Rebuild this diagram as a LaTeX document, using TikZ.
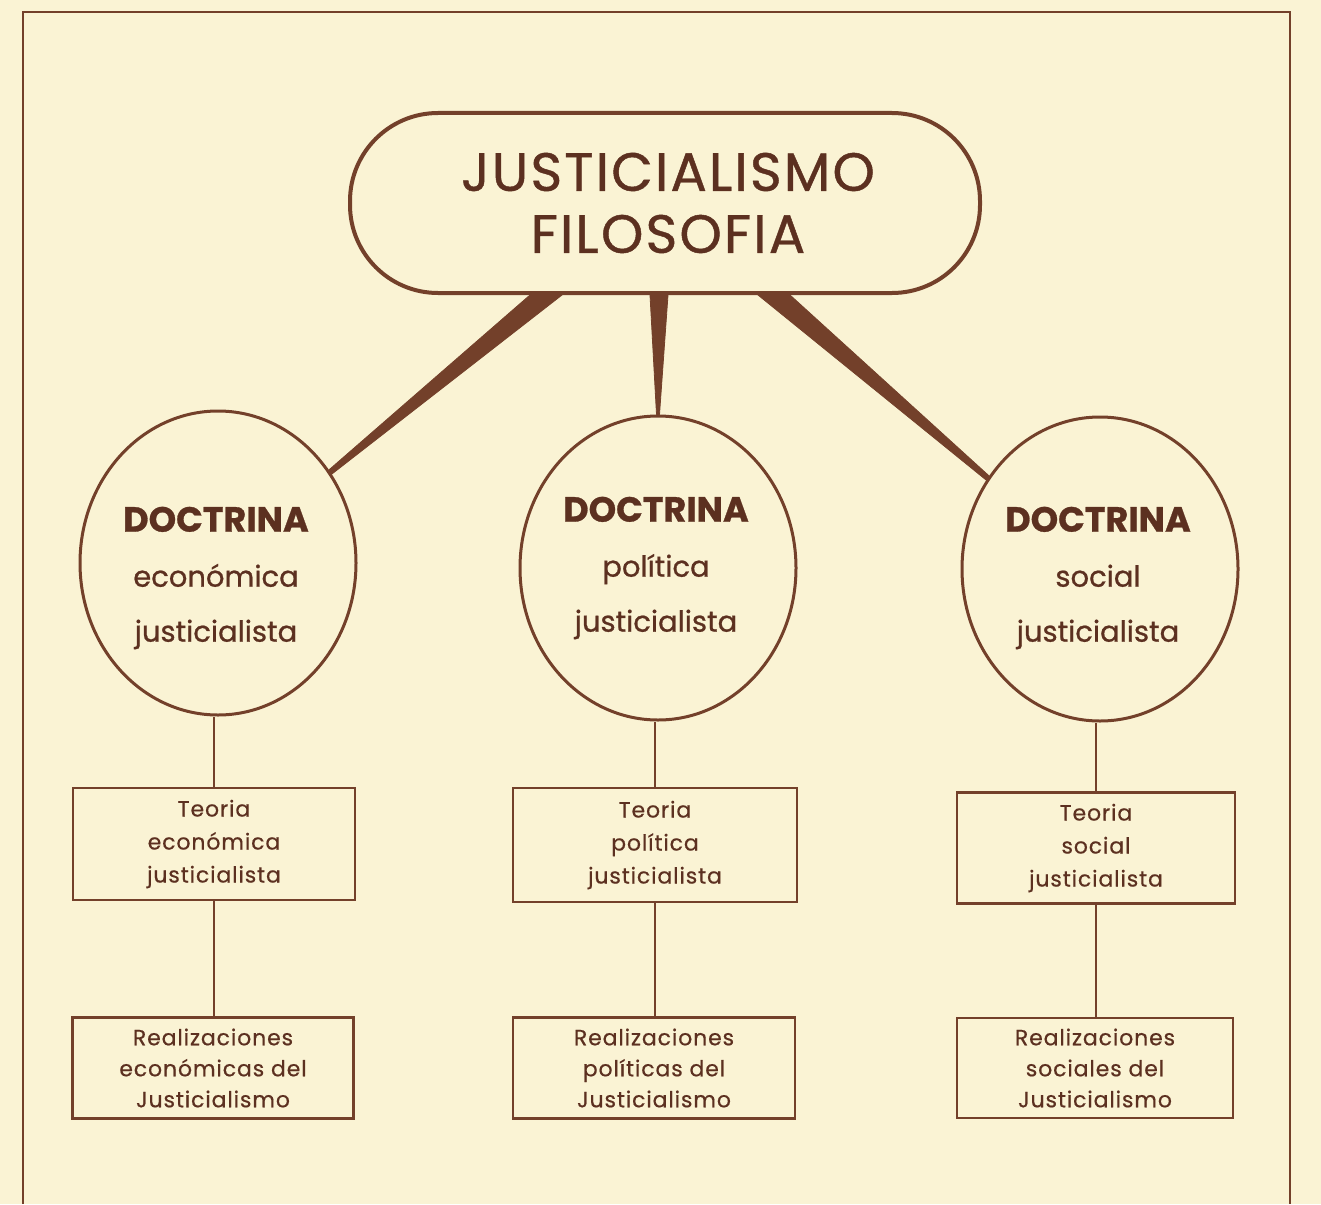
\documentclass[tikz,border=0pt]{standalone}
\usepackage{fontspec}
\setmainfont{Poppins}
\newfontfamily\medfont[FakeBold=0.8]{Poppins}
\newfontfamily\titlefont[FakeBold=0.8,LetterSpace=4]{Poppins}
\newfontfamily\boxfont[FakeBold=0.5,LetterSpace=4]{Poppins}
\usetikzlibrary{shapes.geometric,calc}
\definecolor{paper}{RGB}{250,243,212}
\definecolor{ink}{RGB}{115,64,42}
\definecolor{txt}{RGB}{92,48,32}
\tikzset{
  pill/.style={draw=ink,line width=4pt,rounded corners=88pt,minimum width=630pt,minimum height=180pt,inner sep=0pt},
  doc/.style={ellipse,draw=ink,line width=3pt,minimum width=276pt,minimum height=304pt,inner sep=0pt},
  doctext/.style={text=txt,align=center,font=\medfont\fontsize{29}{55}\selectfont,inner sep=0pt},
  teobox/.style={draw=ink,line width=2.6pt,minimum width=282pt,minimum height=112pt,inner sep=0pt,text=txt,align=center,font=\boxfont\fontsize{22}{33}\selectfont},
  realbox/.style={draw=ink,line width=2.6pt,minimum width=281pt,minimum height=101pt,inner sep=0pt,text=txt,align=center,font=\boxfont\fontsize{22}{31}\selectfont},
  link/.style={draw=ink,line width=2.6pt},
  wedge/.style={fill=ink,draw=ink,line width=0.8pt,line join=round},
}
\begin{document}
\begin{tikzpicture}[x=1pt,y=-1pt]
\fill[paper] (0,0) rectangle (1321,1204);
\useasboundingbox (0,0) rectangle (1321,1204);
\draw[ink,line width=2.4pt] (23,1204) -- (23,12) -- (1290,12) -- (1290,1204);

\node[pill] (top) at (665,203) {};
\node[text=txt,align=center,font=\titlefont\fontsize{54}{62}\selectfont,inner sep=0pt] (toptext) at (668,203) {JUSTICIALISMO\\FILOSOFIA};

\node[doc] (eco) at (218,563) {};
\node[doc] (pol) at (658,568) {};
\node[doc] (soc) at (1100,569) {};

\node[doctext] (ecot) at (216,578) {{\fontsize{35}{55}\bfseries DOCTRINA}\\económica\\justicialista};
\node[doctext] (polt) at (656,568) {{\fontsize{35}{55}\bfseries DOCTRINA}\\política\\justicialista};
\node[doctext] (soct) at (1098,578) {{\fontsize{35}{55}\bfseries DOCTRINA}\\social\\justicialista};

% wedges
\fill[wedge] ($(top.south west)+(182,0)$) -- ($(top.south west)+(214,0)$) -- (eco.38) -- (eco.40) -- cycle;
\fill[wedge] ($(top.south west)+(302,0)$) -- ($(top.south west)+(320,0)$) -- ($(pol.north)+(1.5,0)$) -- ($(pol.north)+(-1.5,0)$) -- cycle;
\fill[wedge] ($(top.south west)+(410,0)$) -- ($(top.south west)+(442,0)$) -- (soc.140) -- (soc.142) -- cycle;

\node[teobox] (teoE) at (214,844) {Teoria\\económica\\justicialista};
\node[teobox,minimum width=284pt,minimum height=114pt] (teoP) at (655,845) {Teoria\\política\\justicialista};
\node[teobox,minimum width=278pt,minimum height=111pt] (teoS) at (1096,848) {Teoria\\social\\justicialista};

\node[realbox] (realE) at (213,1068) {Realizaciones\\económicas del\\Justicialismo};
\node[realbox,minimum width=282pt] (realP) at (654,1068) {Realizaciones\\políticas del\\Justicialismo};
\node[realbox,minimum width=276pt,minimum height=100pt] (realS) at (1095,1068) {Realizaciones\\sociales del\\Justicialismo};

\draw[link] (teoE.north) -- (teoE.north |- eco.south);
\draw[link] (teoP.north) -- (teoP.north |- pol.south);
\draw[link] (teoS.north) -- (teoS.north |- soc.south);
\draw[link] (teoE.south) -- (teoE.south |- realE.north);
\draw[link] (teoP.south) -- (teoP.south |- realP.north);
\draw[link] (teoS.south) -- (teoS.south |- realS.north);
\end{tikzpicture}
\end{document}
